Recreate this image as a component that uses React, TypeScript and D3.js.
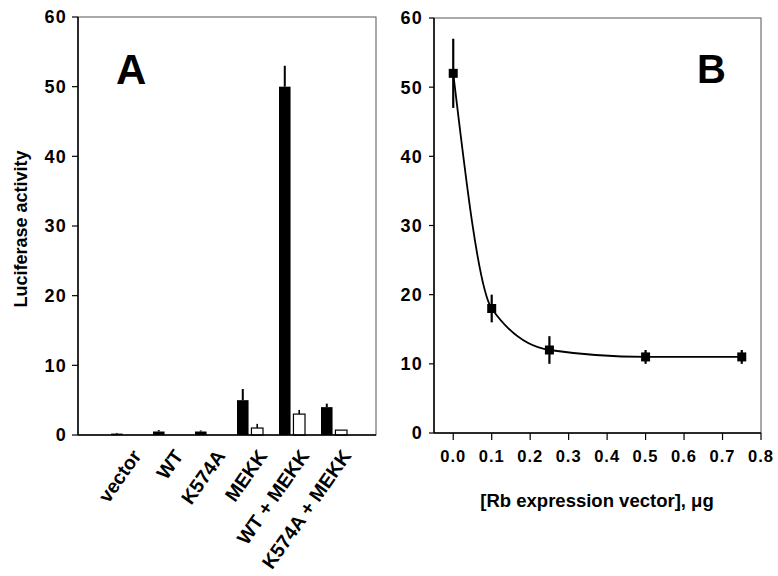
import React from 'react';
import * as d3 from 'd3';

// panel A data
const categories = ['vector', 'WT', 'K574A', 'MEKK', 'WT + MEKK', 'K574A + MEKK'];
const blackValues = [0.2, 0.5, 0.5, 5, 50, 4];
const blackErrors = [0.1, 0.2, 0.15, 1.6, 3, 0.5];
const whiteValues = [0, 0, 0, 1.0, 3.0, 0.7];
const whiteErrors = [0, 0, 0, 0.6, 0.6, 0];
const yTicksA = [0, 10, 20, 30, 40, 50, 60];

// panel B data
const rbDose = [0, 0.1, 0.25, 0.5, 0.75];
const rbActivity = [52, 18, 12, 11, 11];
const rbError = [5, 2, 2, 1, 1];
const xTicksB = [0, 0.1, 0.2, 0.3, 0.4, 0.5, 0.6, 0.7, 0.8];
const yTicksB = [0, 10, 20, 30, 40, 50, 60];

const W = 778;
const H = 576;
const font = "'Liberation Sans', Arial, Helvetica, sans-serif";

const A = { left: 78, right: 376, top: 17, bottom: 435 };
const B = { left: 434, right: 761, top: 18, bottom: 433 };

export default function App() {
  const yA = d3.scaleLinear().domain([0, 60]).range([A.bottom, A.top]);
  const groups = d3.scaleBand<string>().domain(categories).range([103, 355]).padding(0);
  const inner = d3.scaleBand<string>().domain(['black', 'white']).range([8, 34]).paddingInner(0.2).paddingOuter(0);

  const xB = d3.scaleLinear().domain([-0.05, 0.8]).range([B.left, B.right]);
  const yB = d3.scaleLinear().domain([0, 60]).range([B.bottom, B.top]);
  const pts = rbDose.map((d, i) => [d, rbActivity[i]] as [number, number]);
  const line = d3.line<[number, number]>()
    .x(d => xB(d[0]))
    .y(d => yB(d[1]))
    .curve(d3.curveMonotoneX);

  const tickStyle = { fontFamily: font, fontWeight: 700, fontSize: 18, letterSpacing: 1.2 } as const;

  return (
    <svg width={W} height={H} viewBox={`0 0 ${W} ${H}`} style={{ position: 'absolute', left: 0, top: 0, background: '#fff' }}>
      <rect width={W} height={H} fill="#fff" />

      {/* ---------- panel A ---------- */}
      <g>
        <rect x={A.left} y={A.top} width={A.right - A.left} height={A.bottom - A.top} fill="none" stroke="#555" strokeWidth={1} />
        {yTicksA.map(t => (
          <g key={t}>
            <line x1={A.left - 6} x2={A.left} y1={yA(t)} y2={yA(t)} stroke="#000" strokeWidth={1.2} />
            <text x={A.left - 11} y={yA(t)} dy="0.36em" textAnchor="end" style={tickStyle}>{t}</text>
          </g>
        ))}
        {categories.map((c, i) => {
          const g0 = groups(c)!;
          const bx = g0 + inner('black')!;
          const wx = g0 + inner('white')!;
          const bw = inner.bandwidth();
          return (
            <g key={c}>
              {blackValues[i] > 0 && (
                <rect x={bx} y={yA(blackValues[i])} width={bw} height={yA(0) - yA(blackValues[i])} fill="#000" />
              )}
              {blackErrors[i] > 0 && (
                <line x1={bx + bw / 2} x2={bx + bw / 2} y1={yA(blackValues[i])} y2={yA(blackValues[i] + blackErrors[i])} stroke="#000" strokeWidth={2} />
              )}
              {whiteValues[i] > 0 && (
                <rect x={wx} y={yA(whiteValues[i])} width={bw} height={yA(0) - yA(whiteValues[i])} fill="#fff" stroke="#000" strokeWidth={1.2} />
              )}
              {whiteErrors[i] > 0 && (
                <line x1={wx + bw / 2} x2={wx + bw / 2} y1={yA(whiteValues[i])} y2={yA(whiteValues[i] + whiteErrors[i])} stroke="#000" strokeWidth={1.6} />
              )}
              <text
                transform={`translate(${g0 + groups.bandwidth() / 2 + 18},${A.bottom + 21}) rotate(-55)`}
                textAnchor="end"
                style={{ fontFamily: font, fontWeight: 700, fontSize: 19.5 }}
              >{c}</text>
            </g>
          );
        })}
        <line x1={A.left} x2={A.right} y1={A.bottom} y2={A.bottom} stroke="#000" strokeWidth={1.5} />
        <line x1={A.left} x2={A.left} y1={A.top} y2={A.bottom} stroke="#000" strokeWidth={1.5} />
        <text transform={`translate(21,229) rotate(-90)`} dy="0.36em" textAnchor="middle"
          style={{ fontFamily: font, fontWeight: 700, fontSize: 18 }}>Luciferase activity</text>
        <text x={116} y={84} style={{ fontFamily: font, fontWeight: 700, fontSize: 42 }}>A</text>
      </g>

      {/* ---------- panel B ---------- */}
      <g>
        <rect x={B.left} y={B.top} width={B.right - B.left} height={B.bottom - B.top} fill="none" stroke="#555" strokeWidth={1} />
        {yTicksB.map(t => (
          <g key={t}>
            <line x1={B.left - 5} x2={B.left} y1={yB(t)} y2={yB(t)} stroke="#000" strokeWidth={1.2} />
            <text x={B.left - 11} y={yB(t)} dy="0.36em" textAnchor="end" style={tickStyle}>{t}</text>
          </g>
        ))}
        {xTicksB.map(t => (
          <g key={t}>
            <line x1={xB(t)} x2={xB(t)} y1={B.bottom} y2={B.bottom + 7} stroke="#000" strokeWidth={1.2} />
            <text x={xB(t)} y={B.bottom + 29} textAnchor="middle"
              style={{ fontFamily: font, fontWeight: 700, fontSize: 16.5, letterSpacing: 1 }}>{d3.format('.1f')(t)}</text>
          </g>
        ))}
        <line x1={B.left} x2={B.right} y1={B.bottom} y2={B.bottom} stroke="#000" strokeWidth={1.5} />
        <line x1={B.left} x2={B.left} y1={B.top} y2={B.bottom} stroke="#000" strokeWidth={1.5} />

        <path d={line(pts)!} fill="none" stroke="#000" strokeWidth={1.8} />
        {pts.map((p, i) => (
          <g key={i}>
            <line x1={xB(p[0])} x2={xB(p[0])} y1={yB(p[1] - rbError[i])} y2={yB(p[1] + rbError[i])} stroke="#000" strokeWidth={2.2} />
            <rect x={xB(p[0]) - 4.5} y={yB(p[1]) - 4.5} width={9} height={9} fill="#000" />
          </g>
        ))}
        <text x={597} y={507} textAnchor="middle"
          style={{ fontFamily: font, fontWeight: 700, fontSize: 18.5 }}>[Rb expression vector], μg</text>
        <text x={697} y={83} style={{ fontFamily: font, fontWeight: 700, fontSize: 40 }}>B</text>
      </g>
    </svg>
  );
}
